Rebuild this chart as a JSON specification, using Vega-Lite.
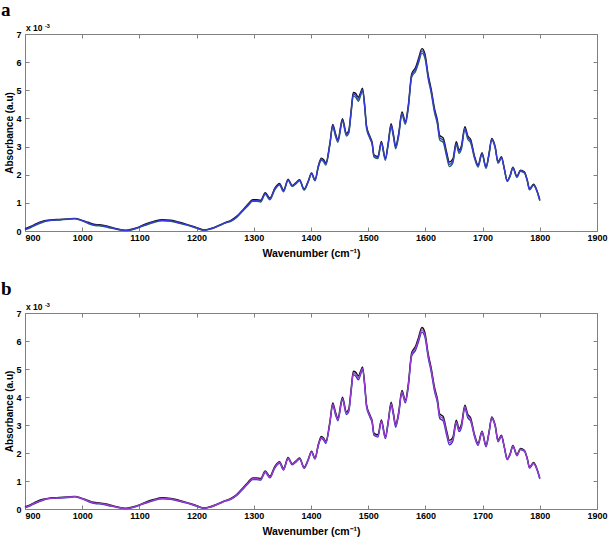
{
  "$schema": "https://vega.github.io/schema/vega-lite/v6.json",
  "background": "white",
  "padding": {"left": 0, "top": 0, "right": 4, "bottom": 0},
  "spacing": 20,
  "config": {
    "view": {"stroke": "#808080", "strokeWidth": 1},
    "axis": {
      "grid": false, "domain": false,
      "labelFont": "Liberation Sans", "labelFontWeight": "bold", "labelFontSize": 9, "labelColor": "black",
      "titleFont": "Liberation Sans", "titleFontWeight": "bold", "titleFontSize": 10.5, "titleColor": "black",
      "tickColor": "#808080", "tickSize": -4, "format": "d"
    }
  },
  "datasets": {
    "spec": [
      {"x":900,"a1":0.08,"a2":0.04,"a3":0.06},
      {"x":910,"a1":0.16,"a2":0.12,"a3":0.14},
      {"x":920,"a1":0.26,"a2":0.22,"a3":0.24},
      {"x":930,"a1":0.34,"a2":0.30,"a3":0.32},
      {"x":940,"a1":0.38,"a2":0.36,"a3":0.37},
      {"x":950,"a1":0.40,"a2":0.38,"a3":0.39},
      {"x":960,"a1":0.41,"a2":0.39,"a3":0.40},
      {"x":975,"a1":0.43,"a2":0.41,"a3":0.42},
      {"x":987,"a1":0.45,"a2":0.43,"a3":0.44},
      {"x":1000,"a1":0.38,"a2":0.36,"a3":0.37},
      {"x":1010,"a1":0.31,"a2":0.27,"a3":0.29},
      {"x":1020,"a1":0.24,"a2":0.20,"a3":0.22},
      {"x":1030,"a1":0.22,"a2":0.18,"a3":0.20},
      {"x":1040,"a1":0.19,"a2":0.15,"a3":0.17},
      {"x":1050,"a1":0.14,"a2":0.10,"a3":0.12},
      {"x":1060,"a1":0.08,"a2":0.06,"a3":0.07},
      {"x":1070,"a1":0.04,"a2":0.02,"a3":0.03},
      {"x":1078,"a1":0.03,"a2":0.01,"a3":0.02},
      {"x":1090,"a1":0.08,"a2":0.06,"a3":0.07},
      {"x":1100,"a1":0.15,"a2":0.13,"a3":0.14},
      {"x":1110,"a1":0.24,"a2":0.20,"a3":0.22},
      {"x":1125,"a1":0.34,"a2":0.30,"a3":0.32},
      {"x":1140,"a1":0.40,"a2":0.36,"a3":0.38},
      {"x":1155,"a1":0.38,"a2":0.34,"a3":0.36},
      {"x":1170,"a1":0.31,"a2":0.27,"a3":0.29},
      {"x":1185,"a1":0.22,"a2":0.20,"a3":0.21},
      {"x":1200,"a1":0.12,"a2":0.10,"a3":0.11},
      {"x":1213,"a1":0.04,"a2":0.02,"a3":0.03},
      {"x":1225,"a1":0.09,"a2":0.07,"a3":0.08},
      {"x":1240,"a1":0.21,"a2":0.19,"a3":0.20},
      {"x":1250,"a1":0.30,"a2":0.28,"a3":0.29},
      {"x":1260,"a1":0.38,"a2":0.34,"a3":0.36},
      {"x":1270,"a1":0.52,"a2":0.48,"a3":0.50},
      {"x":1280,"a1":0.73,"a2":0.69,"a3":0.71},
      {"x":1290,"a1":0.96,"a2":0.90,"a3":0.93},
      {"x":1298,"a1":1.11,"a2":1.05,"a3":1.08},
      {"x":1305,"a1":1.11,"a2":1.05,"a3":1.08},
      {"x":1312,"a1":1.09,"a2":1.03,"a3":1.06},
      {"x":1320,"a1":1.36,"a2":1.30,"a3":1.33},
      {"x":1328,"a1":1.17,"a2":1.11,"a3":1.14},
      {"x":1337,"a1":1.53,"a2":1.47,"a3":1.50},
      {"x":1345,"a1":1.69,"a2":1.63,"a3":1.66},
      {"x":1352,"a1":1.45,"a2":1.39,"a3":1.42},
      {"x":1360,"a1":1.84,"a2":1.80,"a3":1.82},
      {"x":1367,"a1":1.62,"a2":1.58,"a3":1.60},
      {"x":1373,"a1":1.70,"a2":1.66,"a3":1.68},
      {"x":1380,"a1":1.82,"a2":1.78,"a3":1.80},
      {"x":1388,"a1":1.49,"a2":1.45,"a3":1.47},
      {"x":1395,"a1":1.77,"a2":1.73,"a3":1.75},
      {"x":1401,"a1":2.06,"a2":2.02,"a3":2.04},
      {"x":1407,"a1":1.82,"a2":1.78,"a3":1.80},
      {"x":1413,"a1":2.33,"a2":2.27,"a3":2.30},
      {"x":1418,"a1":2.59,"a2":2.51,"a3":2.55},
      {"x":1422,"a1":2.54,"a2":2.46,"a3":2.50},
      {"x":1426,"a1":2.42,"a2":2.34,"a3":2.38},
      {"x":1433,"a1":3.12,"a2":3.04,"a3":3.08},
      {"x":1438,"a1":3.79,"a2":3.69,"a3":3.74},
      {"x":1443,"a1":3.45,"a2":3.35,"a3":3.40},
      {"x":1447,"a1":3.25,"a2":3.15,"a3":3.20},
      {"x":1455,"a1":3.99,"a2":3.89,"a3":3.94},
      {"x":1462,"a1":3.47,"a2":3.37,"a3":3.42},
      {"x":1466,"a1":3.57,"a2":3.47,"a3":3.52},
      {"x":1470,"a1":4.26,"a2":4.14,"a3":4.20},
      {"x":1474,"a1":4.92,"a2":4.80,"a3":4.86},
      {"x":1478,"a1":4.89,"a2":4.75,"a3":4.82},
      {"x":1483,"a1":4.75,"a2":4.61,"a3":4.68},
      {"x":1486,"a1":4.88,"a2":4.76,"a3":4.82},
      {"x":1490,"a1":5.07,"a2":4.97,"a3":5.02},
      {"x":1494,"a1":4.45,"a2":4.35,"a3":4.40},
      {"x":1497,"a1":3.75,"a2":3.65,"a3":3.70},
      {"x":1503,"a1":3.36,"a2":3.28,"a3":3.32},
      {"x":1507,"a1":3.14,"a2":3.06,"a3":3.10},
      {"x":1510,"a1":2.71,"a2":2.63,"a3":2.67},
      {"x":1517,"a1":2.65,"a2":2.57,"a3":2.61},
      {"x":1523,"a1":3.18,"a2":3.10,"a3":3.14},
      {"x":1530,"a1":2.59,"a2":2.51,"a3":2.55},
      {"x":1535,"a1":3.14,"a2":3.06,"a3":3.10},
      {"x":1540,"a1":3.81,"a2":3.71,"a3":3.76},
      {"x":1544,"a1":3.45,"a2":3.35,"a3":3.40},
      {"x":1548,"a1":3.02,"a2":2.92,"a3":2.97},
      {"x":1553,"a1":3.43,"a2":3.33,"a3":3.38},
      {"x":1559,"a1":4.23,"a2":4.13,"a3":4.18},
      {"x":1565,"a1":3.89,"a2":3.79,"a3":3.84},
      {"x":1570,"a1":4.45,"a2":4.33,"a3":4.39},
      {"x":1576,"a1":5.58,"a2":5.46,"a3":5.52},
      {"x":1583,"a1":5.82,"a2":5.68,"a3":5.75},
      {"x":1588,"a1":6.13,"a2":5.97,"a3":6.05},
      {"x":1594,"a1":6.48,"a2":6.32,"a3":6.40},
      {"x":1599,"a1":6.31,"a2":6.15,"a3":6.23},
      {"x":1605,"a1":5.53,"a2":5.39,"a3":5.46},
      {"x":1610,"a1":5.05,"a2":4.91,"a3":4.98},
      {"x":1616,"a1":4.34,"a2":4.20,"a3":4.27},
      {"x":1621,"a1":3.93,"a2":3.79,"a3":3.86},
      {"x":1625,"a1":3.40,"a2":3.24,"a3":3.32},
      {"x":1631,"a1":3.31,"a2":3.15,"a3":3.23},
      {"x":1637,"a1":2.81,"a2":2.65,"a3":2.73},
      {"x":1642,"a1":2.45,"a2":2.29,"a3":2.37},
      {"x":1648,"a1":2.56,"a2":2.42,"a3":2.49},
      {"x":1654,"a1":3.17,"a2":3.05,"a3":3.11},
      {"x":1659,"a1":2.88,"a2":2.76,"a3":2.82},
      {"x":1663,"a1":3.03,"a2":2.91,"a3":2.97},
      {"x":1669,"a1":3.71,"a2":3.59,"a3":3.65},
      {"x":1674,"a1":3.38,"a2":3.26,"a3":3.32},
      {"x":1679,"a1":3.26,"a2":3.14,"a3":3.20},
      {"x":1686,"a1":2.65,"a2":2.57,"a3":2.61},
      {"x":1692,"a1":2.35,"a2":2.27,"a3":2.31},
      {"x":1699,"a1":2.78,"a2":2.72,"a3":2.75},
      {"x":1706,"a1":2.28,"a2":2.22,"a3":2.25},
      {"x":1711,"a1":2.73,"a2":2.67,"a3":2.70},
      {"x":1716,"a1":3.29,"a2":3.23,"a3":3.26},
      {"x":1722,"a1":3.00,"a2":2.94,"a3":2.97},
      {"x":1727,"a1":2.46,"a2":2.40,"a3":2.43},
      {"x":1733,"a1":2.64,"a2":2.58,"a3":2.61},
      {"x":1738,"a1":2.22,"a2":2.18,"a3":2.20},
      {"x":1743,"a1":1.80,"a2":1.76,"a3":1.78},
      {"x":1748,"a1":1.97,"a2":1.93,"a3":1.95},
      {"x":1753,"a1":2.27,"a2":2.23,"a3":2.25},
      {"x":1760,"a1":1.94,"a2":1.90,"a3":1.92},
      {"x":1766,"a1":2.16,"a2":2.12,"a3":2.14},
      {"x":1773,"a1":2.10,"a2":2.06,"a3":2.08},
      {"x":1778,"a1":1.82,"a2":1.78,"a3":1.80},
      {"x":1782,"a1":1.50,"a2":1.46,"a3":1.48},
      {"x":1789,"a1":1.66,"a2":1.62,"a3":1.64},
      {"x":1795,"a1":1.44,"a2":1.40,"a3":1.42},
      {"x":1800,"a1":1.11,"a2":1.07,"a3":1.09}
    ]
  },
  "vconcat": [
    {
      "width": 572, "height": 197,
      "title": {"text": "a", "anchor": "start", "frame": "bounds", "font": "Liberation Serif", "fontSize": 19, "fontWeight": "bold", "color": "black", "offset": 4, "dx": -4},
      "data": {"name": "spec"},
      "resolve": {"axis": {"x": "independent", "y": "independent"}},
      "layer": [
        {
          "mark": {"type": "line", "color": "#111111", "strokeWidth": 1.4, "interpolate": "monotone"},
          "encoding": {
            "x": {"field": "x", "type": "quantitative", "scale": {"domain": [900, 1900], "nice": false},
              "axis": {"orient": "bottom", "values": [900,1000,1100,1200,1300,1400,1500,1600,1700,1800,1900], "title": "Wavenumber (cm⁻¹)", "labelPadding": 6, "titlePadding": 6,
                "labelAlign": {"condition": {"test": "datum.value == 900", "value": "left"}, "value": "center"}}},
            "y": {"field": "a1", "type": "quantitative", "scale": {"domain": [0, 7], "nice": false},
              "axis": {"orient": "left", "values": [0,1,2,3,4,5,6,7], "title": "Absorbance (a.u)", "titleFontSize": 10, "labelPadding": 8, "titlePadding": 1}}
          }
        },
        {
          "mark": {"type": "line", "color": "#1f6a4f", "strokeWidth": 1.3, "interpolate": "monotone"},
          "encoding": {
            "x": {"field": "x", "type": "quantitative", "axis": {"orient": "top", "values": [900,1000,1100,1200,1300,1400,1500,1600,1700,1800,1900], "labels": false, "title": null}},
            "y": {"field": "a2", "type": "quantitative", "axis": {"orient": "right", "values": [0,1,2,3,4,5,6,7], "labels": false, "title": null}}
          }
        },
        {
          "mark": {"type": "line", "color": "#3b38e0", "strokeWidth": 1.3, "interpolate": "monotone"},
          "encoding": {
            "x": {"field": "x", "type": "quantitative", "axis": null},
            "y": {"field": "a3", "type": "quantitative", "axis": null}
          }
        },
        {
          "data": {"values": [{"t": "x 10"}]},
          "mark": {"type": "text", "align": "left", "baseline": "bottom", "dx": 1, "dy": -1, "font": "Liberation Sans", "fontSize": 8.5, "fontWeight": "bold", "color": "black"},
          "encoding": {"x": {"datum": 900, "type": "quantitative", "axis": null}, "y": {"datum": 7, "type": "quantitative", "axis": null}, "text": {"field": "t"}}
        },
        {
          "data": {"values": [{"t": "-3"}]},
          "mark": {"type": "text", "align": "left", "baseline": "bottom", "dx": 20, "dy": -5, "font": "Liberation Sans", "fontSize": 5.5, "fontWeight": "bold", "color": "black"},
          "encoding": {"x": {"datum": 900, "type": "quantitative", "axis": null}, "y": {"datum": 7, "type": "quantitative", "axis": null}, "text": {"field": "t"}}
        }
      ]
    },
    {
      "width": 572, "height": 196,
      "title": {"text": "b", "anchor": "start", "frame": "bounds", "font": "Liberation Serif", "fontSize": 19, "fontWeight": "bold", "color": "black", "offset": 4, "dx": -4},
      "data": {"name": "spec"},
      "resolve": {"axis": {"x": "independent", "y": "independent"}},
      "layer": [
        {
          "mark": {"type": "line", "color": "#111111", "strokeWidth": 1.4, "interpolate": "monotone"},
          "encoding": {
            "x": {"field": "x", "type": "quantitative", "scale": {"domain": [900, 1900], "nice": false},
              "axis": {"orient": "bottom", "values": [900,1000,1100,1200,1300,1400,1500,1600,1700,1800,1900], "title": "Wavenumber (cm⁻¹)", "labelPadding": 6, "titlePadding": 6,
                "labelAlign": {"condition": {"test": "datum.value == 900", "value": "left"}, "value": "center"}}},
            "y": {"field": "a1", "type": "quantitative", "scale": {"domain": [0, 7], "nice": false},
              "axis": {"orient": "left", "values": [0,1,2,3,4,5,6,7], "title": "Absorbance (a.u)", "titleFontSize": 10, "labelPadding": 8, "titlePadding": 1}}
          }
        },
        {
          "mark": {"type": "line", "color": "#3030c4", "strokeWidth": 1.3, "interpolate": "monotone"},
          "encoding": {
            "x": {"field": "x", "type": "quantitative", "axis": {"orient": "top", "values": [900,1000,1100,1200,1300,1400,1500,1600,1700,1800,1900], "labels": false, "title": null}},
            "y": {"field": "a2", "type": "quantitative", "axis": {"orient": "right", "values": [0,1,2,3,4,5,6,7], "labels": false, "title": null}}
          }
        },
        {
          "mark": {"type": "line", "color": "#a03cd2", "strokeWidth": 1.3, "interpolate": "monotone"},
          "encoding": {
            "x": {"field": "x", "type": "quantitative", "axis": null},
            "y": {"field": "a3", "type": "quantitative", "axis": null}
          }
        },
        {
          "data": {"values": [{"t": "x 10"}]},
          "mark": {"type": "text", "align": "left", "baseline": "bottom", "dx": 1, "dy": -1, "font": "Liberation Sans", "fontSize": 8.5, "fontWeight": "bold", "color": "black"},
          "encoding": {"x": {"datum": 900, "type": "quantitative", "axis": null}, "y": {"datum": 7, "type": "quantitative", "axis": null}, "text": {"field": "t"}}
        },
        {
          "data": {"values": [{"t": "-3"}]},
          "mark": {"type": "text", "align": "left", "baseline": "bottom", "dx": 20, "dy": -5, "font": "Liberation Sans", "fontSize": 5.5, "fontWeight": "bold", "color": "black"},
          "encoding": {"x": {"datum": 900, "type": "quantitative", "axis": null}, "y": {"datum": 7, "type": "quantitative", "axis": null}, "text": {"field": "t"}}
        }
      ]
    }
  ]
}
